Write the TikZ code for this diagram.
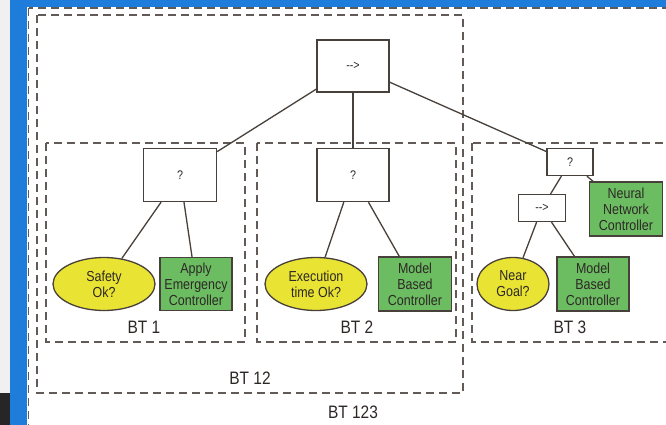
\documentclass[tikz,border=0pt]{standalone}
\usepackage{fontspec}
\setmainfont{Liberation Sans}[FakeStretch=0.86]
\usepackage{tikz}
\usetikzlibrary{shapes.geometric}
\definecolor{condyellow}{RGB}{233,227,52}
\definecolor{actgreen}{RGB}{108,188,98}
\definecolor{edgegray}{RGB}{72,64,58}
\definecolor{dashgray}{RGB}{98,90,86}
\definecolor{inkdark}{RGB}{45,40,38}
\definecolor{screenblue}{RGB}{30,125,218}
\begin{document}
\begin{tikzpicture}[x=1pt, y=-1pt, font=\fontsize{14.5}{16}\selectfont, text=inkdark,
  seqbox/.style={draw=edgegray, line width=1.3pt, fill=white, inner sep=0pt, font=\fontsize{12.5}{14}\selectfont},
  condnode/.style={ellipse, draw=edgegray, line width=1.3pt, fill=condyellow, inner sep=0pt, align=center},
  actnode/.style={draw=edgegray, line width=1.3pt, fill=actgreen, inner sep=0pt, align=center},
  btframe/.style={draw=dashgray, line width=1.5pt, dash pattern=on 8pt off 5pt},
  btlabel/.style={font=\fontsize{18}{20}\selectfont},
  link/.style={draw=edgegray, line width=1.3pt}]
\useasboundingbox (0,0) rectangle (666,425);
\clip (0,0) rectangle (666,425);
% screen around the figure
\fill[gray!12] (0,0) rectangle (10,393);
\fill[black!85] (0,393) rectangle (10,425);
\fill[screenblue] (10,0) rectangle (27,425);
\fill[screenblue] (27,0) rectangle (666,7);
\fill[white] (27,7) rectangle (666,425);
% subtree frames
\foreach \xa/\ya/\xb/\yb in {28.5/8/700/450, 37/15/463/393, 46/143/245/342, 257/143/456/342, 472/143/700/342}
  \draw[btframe] (\xa,\ya) rectangle (\xb,\yb);
\node[btlabel] (lbl1) at (144,327) {BT 1};
\node[btlabel] (lbl2) at (357,327) {BT 2};
\node[btlabel] (lbl3) at (570,327) {BT 3};
\node[btlabel] (lbl12) at (250,378) {BT 12};
\node[btlabel] (lbl123) at (353,412) {BT 123};
% control nodes
\node[seqbox, minimum width=72, minimum height=52] (root) at (353,66) {-{}->};
\node[seqbox, minimum width=73, minimum height=53] (sel1) at (180,175) {?};
\node[seqbox, minimum width=72, minimum height=53] (sel2) at (353,175) {?};
\node[seqbox, minimum width=46, minimum height=27] (sel3) at (570,162) {?};
\node[seqbox, minimum width=47, minimum height=27] (seq3) at (542,208) {-{}->};
% leaves
\node[condnode, minimum width=102, minimum height=53] (safe) at (104,284) {Safety\\Ok?};
\node[actnode, minimum width=72, minimum height=53] (apply) at (196,284) {Apply\\Emergency\\Controller};
\node[condnode, minimum width=102, minimum height=53] (exec) at (316,284) {Execution\\time Ok?};
\node[actnode, minimum width=73, minimum height=54] (mbc2) at (415,284) {Model\\Based\\Controller};
\node[condnode, minimum width=72, minimum height=53] (near) at (513,284) {Near\\Goal?};
\node[actnode, minimum width=72, minimum height=54] (mbc3) at (593,284) {Model\\Based\\Controller};
\node[actnode, minimum width=73, minimum height=54] (nn) at (626,209) {Neural\\Network\\Controller};
% edges
\draw[link] (root) -- (sel1);
\draw[link] (root) -- (sel2);
\draw[link] (root) -- (sel3);
\draw[link] (sel1) -- (safe);
\draw[link] (sel1) -- (apply);
\draw[link] (sel2) -- (exec);
\draw[link] (sel2) -- (mbc2);
\draw[link] (sel3) -- (seq3);
\draw[link] (sel3) -- (nn);
\draw[link] (seq3) -- (near);
\draw[link] (seq3) -- (mbc3);
\end{tikzpicture}
\end{document}
